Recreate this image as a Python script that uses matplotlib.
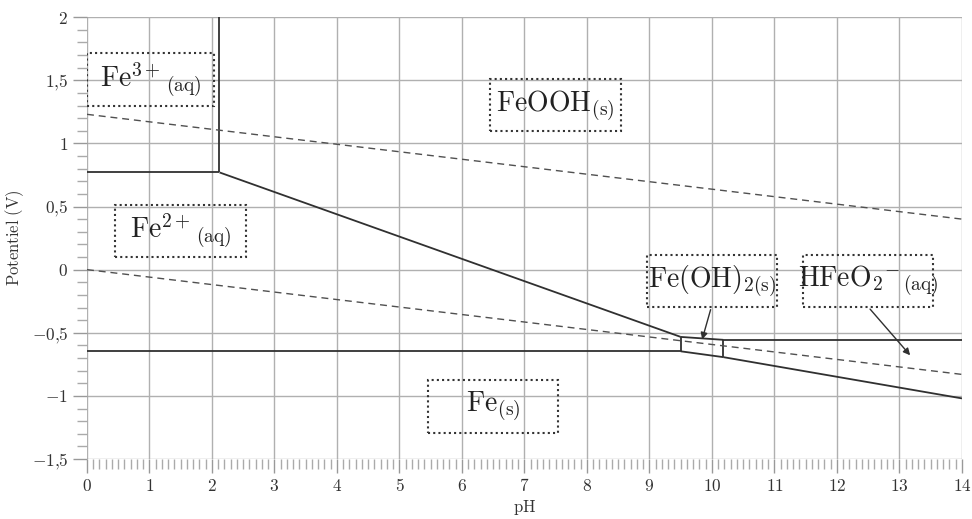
import matplotlib.pyplot as plt
from matplotlib.patches import Rectangle
from matplotlib.ticker import MultipleLocator, FuncFormatter

plt.rcParams['mathtext.fontset'] = 'cm'
plt.rcParams['font.family'] = 'DejaVu Serif'

# frontieres (pH, E en V)
fe3_fe2_x = [0, 2.12]
fe3_fe2_y = [0.77, 0.77]
fe3_feooh_x = [2.12, 2.12]
fe3_feooh_y = [0.77, 2.0]
feooh_fe2_x = [2.12, 9.5]
feooh_fe2_y = [0.77, -0.533]
fe2_fe_x = [0, 9.5]
fe2_fe_y = [-0.647, -0.647]
fe2_feoh2_x = [9.5, 9.5]
fe2_feoh2_y = [-0.647, -0.533]
feooh_feoh2_x = [9.5, 10.18]
feooh_feoh2_y = [-0.533, -0.556]
feoh2_fe_x = [9.5, 10.18]
feoh2_fe_y = [-0.647, -0.693]
feoh2_hfeo2_x = [10.18, 10.18]
feoh2_hfeo2_y = [-0.693, -0.556]
feooh_hfeo2_x = [10.18, 14]
feooh_hfeo2_y = [-0.556, -0.556]
hfeo2_fe_x = [10.18, 14]
hfeo2_fe_y = [-0.693, -1.02]

# droites de l'eau
eau_x = [0, 14]
o2_y = [1.23, 0.40]
h2_y = [0.0, -0.83]

segments = [
    (fe3_fe2_x, fe3_fe2_y), (fe3_feooh_x, fe3_feooh_y),
    (feooh_fe2_x, feooh_fe2_y), (fe2_fe_x, fe2_fe_y),
    (fe2_feoh2_x, fe2_feoh2_y), (feooh_feoh2_x, feooh_feoh2_y),
    (feoh2_fe_x, feoh2_fe_y), (feoh2_hfeo2_x, feoh2_hfeo2_y),
    (feooh_hfeo2_x, feooh_hfeo2_y), (hfeo2_fe_x, hfeo2_fe_y),
]

fig = plt.figure(figsize=(9.72, 5.19), dpi=100)
ax = fig.add_axes([0.0895, 0.1156, 0.9002, 0.8514])

ax.set_xlim(0, 14)
ax.set_ylim(-1.5, 2)
ax.xaxis.set_major_locator(MultipleLocator(1))
ax.xaxis.set_minor_locator(MultipleLocator(0.1))
ax.yaxis.set_major_locator(MultipleLocator(0.5))
ax.yaxis.set_minor_locator(MultipleLocator(0.1))

fmt = FuncFormatter(lambda v, p: '$' + ('%g' % v).replace('.', '{,}') + '$')
ax.xaxis.set_major_formatter(fmt)
ax.yaxis.set_major_formatter(fmt)
ax.tick_params(which='major', length=10, color='#999999', labelsize=12.5, labelcolor='#333333', width=1)
ax.tick_params(which='minor', length=7, color='#aaaaaa', width=1)
ax.grid(True, which='major', color='#b0b0b0', lw=1)
for s in ax.spines.values():
    s.set_visible(False)
ax.set_axisbelow(True)

for sx, sy in segments:
    ax.plot(sx, sy, color='#303030', lw=1.3, solid_capstyle='butt')

ax.plot(eau_x, o2_y, color='#505050', lw=1, dashes=(5, 3.5))
ax.plot(eau_x, h2_y, color='#505050', lw=1, dashes=(5, 3.5))

# etiquettes des especes
especes = [
    (r'$\mathrm{Fe}^{3+}{}_{\mathrm{(aq)}}$', 0.0, 1.295, 2.03, 0.42),
    (r'$\mathrm{FeOOH}_{\mathrm{(s)}}$', 6.45, 1.097, 2.09, 0.412),
    (r'$\mathrm{Fe}^{2+}{}_{\mathrm{(aq)}}$', 0.45, 0.10, 2.09, 0.41),
    (r'$\mathrm{Fe(OH)}_{\mathrm{2(s)}}$', 8.96, -0.296, 2.08, 0.412),
    (r'$\mathrm{HFeO_2}^{-}{}_{\mathrm{(aq)}}$', 11.46, -0.296, 2.08, 0.412),
    (r'$\mathrm{Fe}_{\mathrm{(s)}}$', 5.46, -1.294, 2.08, 0.42),
]
for txt, x0, y0, w, h in especes:
    ax.add_patch(Rectangle((x0, y0), w, h, fill=False, ls=(0, (1, 1.5)), lw=1.5, ec='#333333'))
    ax.text(x0 + w / 2, y0 + h / 2, txt, ha='center', va='center', fontsize=20, color='#222222')

ax.annotate('', xy=(9.83, -0.575), xytext=(9.99, -0.296),
            arrowprops=dict(arrowstyle='-|>', color='#303030', lw=1, mutation_scale=10))
ax.annotate('', xy=(13.2, -0.695), xytext=(12.5, -0.296),
            arrowprops=dict(arrowstyle='-|>', color='#303030', lw=1, mutation_scale=10))

ax.set_xlabel(r'$\mathrm{pH}$', fontsize=12, color='#333333', labelpad=2)
ax.set_ylabel(r'$\mathrm{Potentiel\ (V)}$', fontsize=12, color='#333333', labelpad=4)

fig.savefig('out.png', dpi=100)
